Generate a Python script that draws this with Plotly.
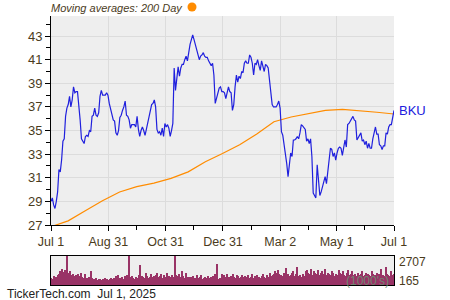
import plotly.graph_objects as go
import pandas as pd

# BKU closing prices, Jul 1 2024 -> Jul 1 2025
price = [
    29.0, 29.3, 28.7, 28.4, 29.0, 29.8, 31.7, 31.5, 32.5, 34.1, 34.3, 36.2, 36.9, 37.2, 37.9, 37.0,
    37.6, 38.7, 38.2, 38.3, 38.3, 37.3, 35.9, 34.3, 34.1, 33.9, 34.5, 34.6, 34.5, 35.0, 34.9, 36.2,
    36.3, 36.9, 36.3, 36.2, 36.5, 37.9, 38.4, 38.0, 38.0, 38.0, 38.2, 38.0, 37.3, 36.9, 36.3, 35.9,
    35.8, 34.8, 34.6, 35.0, 36.1, 36.3, 36.7, 37.0, 37.5, 36.3, 36.2, 35.9, 35.2, 35.5, 35.5,
    35.5, 35.3, 36.2, 35.1, 34.5, 35.0, 35.3, 35.0, 34.6, 35.1, 35.6, 36.3, 36.7, 37.2, 37.3, 37.6,
    37.0, 35.1, 34.8, 34.9, 34.6, 35.2, 34.5, 35.6, 35.3, 35.5, 35.2, 34.5, 35.0, 35.6, 40.3, 38.4,
    39.4, 40.4, 39.6, 40.3, 40.6, 40.6, 41.0, 41.3, 40.9, 41.7, 42.3, 42.7, 43.1, 42.7, 42.3, 42.0,
    41.6, 41.0, 41.3, 41.4, 41.6, 41.3, 41.2, 41.2, 40.9, 40.7, 40.5, 40.7, 39.7, 37.3, 37.8, 38.3,
    38.6, 38.7, 38.3, 38.3, 38.2, 37.7, 38.4, 38.7, 38.3, 38.2, 36.7, 37.2, 38.7, 39.7, 39.1, 39.6,
    39.4, 40.0, 39.9, 40.7, 40.9, 40.7, 40.7, 41.4, 41.2, 40.7, 39.7, 40.7, 40.6, 41.0, 40.5, 40.1,
    40.9, 40.3, 40.0, 40.6, 40.5, 40.3, 39.3, 38.2, 37.2, 37.0, 37.0, 37.0, 37.2, 37.5, 36.9, 34.9,
    34.6, 33.9, 33.1, 32.2, 31.1, 32.2, 33.1, 32.8, 34.2, 34.2, 34.3, 34.5, 34.3, 34.8, 35.5, 35.4,
    35.2, 35.1,
    34.1, 34.3, 33.9, 34.3, 32.8, 29.7, 29.5, 29.3, 32.1, 30.8, 29.5, 29.8, 30.2, 30.5, 31.1, 30.5,
    31.7, 32.5, 33.5, 33.4, 32.8, 33.1, 32.5, 33.1, 33.5, 33.6, 33.5, 32.9, 33.6, 34.2, 33.6, 35.5,
    35.6, 35.8, 36.1, 36.2, 35.9, 35.8, 34.2, 34.4, 34.5, 34.8, 34.1, 34.2, 33.8, 34.1, 33.5, 33.9,
    33.5, 33.5, 34.3, 34.8, 35.3, 34.7, 34.7, 33.8, 33.7, 33.4, 33.7, 33.7, 34.8, 34.7, 35.3, 35.5,
    35.5, 36.1, 36.7,
]

# 200-day moving average (sampled every ~18 days)
ma200 = [26.85, 27.35, 28.2, 29.05, 29.8, 30.25, 30.55, 30.95, 31.5, 32.35, 33.05,
         33.8, 34.7, 35.75, 36.15, 36.45, 36.7, 36.8, 36.7, 36.55, 36.4]

# daily volume in thousands
volume = [
    800, 700, 950, 750, 900, 1050, 1150, 1350, 1550, 1300, 1450, 1150,
    2707,
    1250, 1350, 1050, 1150, 950, 1050, 900, 1100,
    950, 1250, 850, 800, 1150, 750, 700, 850, 1350, 750,
    700, 650, 750, 600, 650, 700, 600, 650, 750, 700, 650, 600, 700, 750, 650,
    750, 950, 850, 1050, 800, 750, 900, 700, 950, 1050, 850,
    2707,
    850, 950, 750, 700, 900, 800, 1050,
    1950,
    950, 850, 800, 1250, 950, 750, 900, 1150, 850, 950,
    1050, 1250, 850, 950, 1150, 800, 1050, 900, 1250, 750, 950, 850, 1050, 900,
    2707,
    1050, 950, 1150, 850, 1350, 950, 750, 1250, 850, 900,
    750, 850, 950, 700, 800, 1050, 750, 850, 1000, 700, 750, 900, 800, 950, 750, 850, 700, 950, 1100, 750,
    2050,
    650, 750, 1150, 950, 1050, 850, 1100, 900, 750, 950, 1150, 850, 800, 1050, 950, 750, 900, 1000, 850,
    950, 850, 1050, 800, 900, 1150, 750, 950, 850, 1050, 900, 800, 950, 1100, 850, 750, 1000, 900, 1250, 950,
    1050, 1150, 1350, 1250, 1450, 1150, 1050, 950, 1250, 1050, 1650, 1150, 950, 1050, 1250, 1350, 950, 1100, 1750, 950,
    1050, 850, 1150, 950, 1350, 1450, 1250, 1150, 1550, 1050, 1350, 1250, 1150, 1450, 1050, 1250, 1350, 1150, 1550, 1050,
    1250, 1150, 1050, 1350, 1250, 950, 1150, 1050, 1450, 1250, 1150, 1350, 1050, 950, 1250, 1450, 1050, 1150, 1350, 1050,
    1150, 950, 1250, 1050, 1150, 1350, 950, 1050, 1250, 1150, 1050, 950, 1350, 1150, 1050, 950, 1250, 1150, 1050, 1550,
    1050, 950, 1750, 1150, 1050, 950, 1350, 1050, 1150,
]

start, end = "2024-07-01", "2025-07-01"
x_tickvals = ["2024-07-01", "2024-08-31", "2024-10-31", "2024-12-31", "2025-03-02", "2025-05-01", "2025-07-01"]
x_ticktext = ["Jul 1", "Aug 31", "Oct 31", "Dec 31", "Mar 2", "May 1", "Jul 1"]
x_minor = ["2024-07-31", "2024-09-30", "2024-11-30", "2025-01-30", "2025-04-01", "2025-05-31"]
y_tickvals = [27, 29, 31, 33, 35, 37, 39, 41, 43]
vol_labels = ["2707", "165"]

price_dates = pd.date_range(start, end, periods=len(price))
ma_dates = pd.date_range(start, end, periods=len(ma200))
vol_dates = pd.date_range(start, end, periods=len(volume))

BLUE = "#2020dd"
ORANGE = "#ff8c00"
TXT = "#4a3b1c"
FONT = "Liberation Sans, Arial, sans-serif"

fig = go.Figure()
fig.add_trace(go.Scatter(x=ma_dates, y=ma200, mode="lines", line=dict(color=ORANGE, width=1.2),
                         xaxis="x", yaxis="y", hoverinfo="skip"))
fig.add_trace(go.Scatter(x=price_dates, y=price, mode="lines", line=dict(color=BLUE, width=1.2),
                         xaxis="x", yaxis="y"))
fig.add_trace(go.Bar(x=vol_dates, y=volume, marker=dict(color="#993366", line=dict(width=0)),
                     xaxis="x2", yaxis="y2"))

fig.update_layout(
    width=450, height=300,
    margin=dict(l=0, r=0, t=0, b=0, autoexpand=False),
    paper_bgcolor="white",
    plot_bgcolor="#eeeeee",
    showlegend=False,
    bargap=0,
    font=dict(family=FONT, color=TXT, size=13),
    xaxis=dict(
        domain=[51 / 450, 394 / 450], range=[start, end], type="date", automargin=False,
        tickmode="array", tickvals=x_tickvals, ticktext=x_ticktext,
        showgrid=True, gridcolor="#dcdcdc", gridwidth=1,
        showline=True, linecolor="black", linewidth=1,
        ticks="outside", ticklen=5, tickcolor="black",
        minor=dict(tickvals=x_minor, ticks="outside", ticklen=4, tickcolor="black", showgrid=False),
        tickfont=dict(size=12.5, color=TXT), zeroline=False, anchor="y",
    ),
    yaxis=dict(
        domain=[0.25, 284 / 300], range=[27, 44.7], automargin=False,
        tickmode="array", tickvals=y_tickvals,
        showgrid=True, gridcolor="#dcdcdc", gridwidth=1,
        showline=True, linecolor="black", linewidth=1,
        ticks="outside", ticklen=5, tickcolor="black",
        minor=dict(dtick=1, tick0=27, ticks="outside", ticklen=4, tickcolor="black", showgrid=False),
        tickfont=dict(size=13, color=TXT), zeroline=False, anchor="x",
    ),
    xaxis2=dict(
        domain=[51 / 450, 394 / 450], range=[start, end], type="date", automargin=False,
        showticklabels=False, ticks="", showgrid=False,
        showline=True, linecolor="black", linewidth=1, mirror=True, anchor="y2",
    ),
    yaxis2=dict(
        domain=[15 / 300, 44 / 300], range=[165, 2707], automargin=False,
        showticklabels=False, ticks="", showgrid=False, zeroline=False,
        showline=True, linecolor="black", linewidth=1, mirror=True, anchor="x2",
    ),
)

fig.add_annotation(x=49 / 450, y=1 - 8 / 300, xref="paper", yref="paper", xanchor="left", yanchor="middle",
                   text="<i>Moving averages: 200 Day</i>", showarrow=False,
                   font=dict(size=11, color=TXT, family=FONT))
fig.add_shape(type="circle", xref="paper", yref="paper",
              x0=187.5 / 450, x1=196.5 / 450, y0=1 - 11.5 / 300, y1=1 - 2.5 / 300,
              fillcolor=ORANGE, line=dict(width=0))
fig.add_annotation(x=397 / 450, y=1 - 110 / 300, xref="paper", yref="paper", xanchor="left", yanchor="middle",
                   text="BKU", showarrow=False, font=dict(size=13, color=BLUE, family=FONT))
fig.add_annotation(x=397 / 450, y=1 - 262 / 300, xref="paper", yref="paper", xanchor="left", yanchor="middle",
                   text=vol_labels[0], showarrow=False, font=dict(size=12, color=TXT, family=FONT))
fig.add_annotation(x=397 / 450, y=1 - 281 / 300, xref="paper", yref="paper", xanchor="left", yanchor="middle",
                   text=vol_labels[1], showarrow=False, font=dict(size=12, color=TXT, family=FONT))
fig.add_annotation(x=391 / 450, y=1 - 281 / 300, xref="paper", yref="paper", xanchor="right", yanchor="middle",
                   text="(1000's)", showarrow=False, font=dict(size=12, color="rgba(105,145,115,0.9)", family=FONT))
fig.add_annotation(x=5 / 450, y=1 - 294 / 300, xref="paper", yref="paper", xanchor="left", yanchor="middle",
                   text="TickerTech.com  Jul 1, 2025", showarrow=False,
                   font=dict(size=12, color="#222222", family=FONT))

fig.write_html("out.html")
